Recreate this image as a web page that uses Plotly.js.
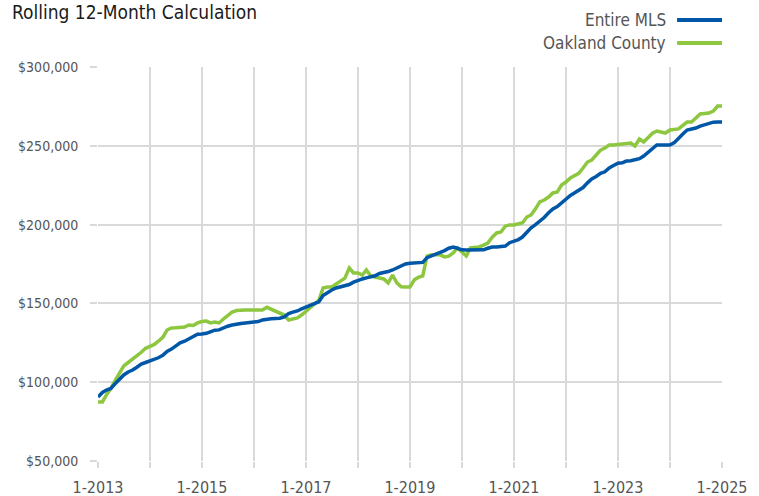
<!DOCTYPE html>
<html>
<head>
<meta charset="utf-8">
<script src="https://cdn.plot.ly/plotly-3.0.1.min.js"></script>
<style>html,body{margin:0;padding:0;background:#fff;}#chart{width:759px;height:496px;}</style>
</head>
<body>
<div id="chart"></div>
<script>
// Monthly rolling 12-month values, Jan 2013 .. Jan 2025
const startYear = 2013;
const entireMLS = [
90600,93500,95000,96000,99000,102000,104600,106500,107700,109500,111500,112500,
113500,114500,115500,117000,119500,121000,123000,125000,126000,127500,128500,130500,
130600,131000,132000,133000,133200,134500,135500,136300,137000,137300,137600,138000,
138200,138500,139500,140000,140200,140400,140600,141500,143500,144500,145200,146500,
147700,149000,150000,151000,155000,157000,158500,159800,160500,161500,162000,163500,
164800,165500,166200,166800,167500,169000,169500,170200,171200,172500,174000,175000,
175500,175600,175600,176000,179000,180000,181000,182000,183500,185000,185800,185000,
184000,183900,183900,183900,184000,184000,185000,185800,185800,186000,186400,188500,
189500,190500,192100,195000,198000,200000,202000,204500,207500,210000,211500,214000,
216000,218500,220000,222000,223500,226500,229000,230500,232500,233500,236000,237500,
239000,239200,240300,240500,241000,241800,243500,246000,248500,250500,250500,250500,
250500,252000,255000,257500,260000,260500,261300,262500,263500,264500,265000,265100,
265100];
const oaklandCounty = [
87500,87500,92000,96000,101000,106000,110300,112500,114500,116600,119000,121500,
122500,124000,126000,128500,133100,134400,134500,135000,135000,136300,136000,137600,
138500,138800,137600,138200,137600,140100,142500,144500,145500,145800,145800,145800,
145800,145800,145800,147500,146400,145000,143900,142600,139500,140000,140800,142600,
145000,147100,149500,152000,159800,160400,160400,162500,164000,166000,172500,169300,
169300,168000,171200,167400,166800,166200,165500,163000,168000,163000,160500,160400,
160400,165000,166500,167500,180000,180800,180800,180800,179500,180000,182000,185200,
182600,180100,185200,185500,185800,187000,188300,192000,194700,195300,199000,199800,
199800,200500,201000,204800,206100,210000,214400,215600,217500,220100,220700,225100,
227000,229600,231000,232500,235900,239700,241000,244000,247300,248600,250500,250500,
250800,251100,251300,251800,249900,254300,252400,255600,258000,259400,258800,258100,
260000,260400,260700,263000,265100,265100,267500,270200,270500,270800,272000,275200,
275200];
const seriesNames = ["Entire MLS", "Oakland County"];
const seriesColors = ["#0057a8", "#8dc63f"];
const tickYears = [2013,2014,2015,2016,2017,2018,2019,2020,2021,2022,2023,2024,2025];
const yTicks = [50000,100000,150000,200000,250000,300000];

function monthDate(i){
  const y = startYear + Math.floor(i/12);
  const m = (i % 12) + 1;
  return y + "-" + String(m).padStart(2,"0") + "-01";
}
const dates = entireMLS.map((_, i) => monthDate(i));
const tickVals = tickYears.map(y => y + "-01-01");
const tickText = tickYears.map(y => ((y - startYear) % 2 === 0) ? "1-" + y : "");

const FONT = "'Liberation Sans Narrow', 'DejaVu Sans Condensed', 'Roboto', sans-serif";

const traces = [entireMLS, oaklandCounty].map((vals, k) => ({
  x: dates, y: vals, type: "scatter", mode: "lines",
  name: seriesNames[k], line: {color: seriesColors[k], width: 3.5, shape: "linear"},
  hoverinfo: "skip"
}));
traces.reverse();

const legY = [1.119, 1.061];
const annotations = [];
const shapes = [];
seriesNames.forEach((n, k) => {
  annotations.push({xref:"paper", yref:"paper", x:0.9135, y:legY[k], xanchor:"right", yanchor:"middle",
    text:n, showarrow:false, font:{family:FONT, size:17, color:"#555"}});
  shapes.push({type:"line", xref:"paper", yref:"paper", x0:0.928, x1:1.0, y0:legY[k], y1:legY[k],
    line:{color:seriesColors[k], width:4}});
});

const layout = {
  width:759, height:496,
  margin:{l:98, r:37, t:67, b:35},
  paper_bgcolor:"#fff", plot_bgcolor:"#fff",
  showlegend:false,
  font:{family:FONT, color:"#555"},
  title:{text:"Rolling 12-Month Calculation", xref:"container", yref:"container",
    x:12/759, xanchor:"left", y:1-12/496, yanchor:"middle",
    font:{family:FONT, size:19, color:"#1a1a1a"}},
  xaxis:{type:"date", range:[monthDate(0), monthDate(144)], tickvals:tickVals, ticktext:tickText,
    showgrid:true, gridcolor:"#d9d9d9", gridwidth:2, zeroline:false, showline:false,
    ticks:"outside", ticklen:6, tickwidth:2, tickcolor:"#d9d9d9", ticklabelstandoff:6,
    tickfont:{family:FONT, size:16, color:"#555"}, fixedrange:true},
  yaxis:{range:[50000,300000], tickvals:yTicks, tickformat:"$,.0f",
    showgrid:true, gridcolor:"#d9d9d9", gridwidth:2, zeroline:false, showline:false,
    ticks:"outside", ticklen:7, tickwidth:2, tickcolor:"#d9d9d9", ticklabelstandoff:9,
    tickfont:{family:FONT, size:14, color:"#555"}, fixedrange:true},
  annotations: annotations,
  shapes: shapes
};
Plotly.newPlot("chart", traces, layout, {displayModeBar:false, staticPlot:true});
</script>
</body>
</html>
